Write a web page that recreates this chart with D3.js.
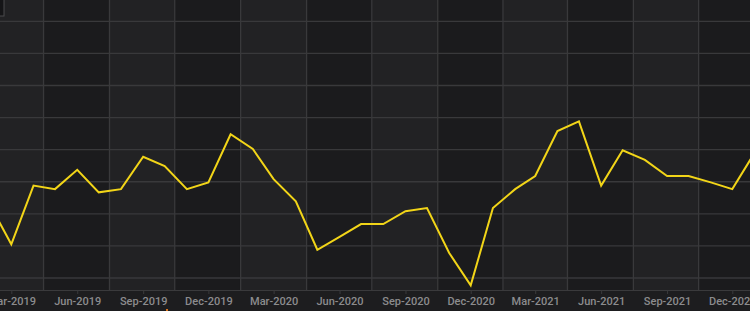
<!DOCTYPE html>
<html>
<head>
<meta charset="utf-8">
<script src="https://cdn.jsdelivr.net/npm/d3@7"></script>
<style>
  html, body { margin: 0; padding: 0; background: #1d1d1f; overflow: hidden; }
  #chart { width: 750px; height: 311px; }
  .axis text { font-family: Roboto, sans-serif; font-size: 11px; font-weight: 500; fill: #8c8c8e; }
  .axis line, .axis path { stroke: #3a3a3c; }
</style>
</head>
<body>
<div id="chart"></div>
<script>
// monthly observations, Feb-2019 .. Jan-2022
const months = [
  '2019-02', '2019-03', '2019-04', '2019-05', '2019-06', '2019-07', '2019-08', '2019-09',
  '2019-10', '2019-11', '2019-12', '2020-01', '2020-02', '2020-03', '2020-04', '2020-05',
  '2020-06', '2020-07', '2020-08', '2020-09', '2020-10', '2020-11', '2020-12', '2021-01',
  '2021-02', '2021-03', '2021-04', '2021-05', '2021-06', '2021-07', '2021-08', '2021-09',
  '2021-10', '2021-11', '2021-12', '2022-01'
];
const values = [
  46.21, 45.05, 46.88, 46.77, 47.37, 46.67, 46.77, 47.78,
  47.49, 46.77, 46.98, 48.48, 48.02, 47.08, 46.39, 44.88,
  45.28, 45.68, 45.68, 46.08, 46.18, 44.78, 43.77, 46.18,
  46.77, 47.18, 48.58, 48.88, 46.88, 47.98, 47.68, 47.18,
  47.18, 46.98, 46.77, 47.90
];
const tickLabels = ['2019-03', '2019-06', '2019-09', '2019-12', '2020-03', '2020-06',
  '2020-09', '2020-12', '2021-03', '2021-06', '2021-09', '2021-12'];
// vertical grid lines sit half way between the labelled quarters
const gridDates = ['2019-01-15', '2019-04-15', '2019-07-16', '2019-10-15', '2020-01-15',
  '2020-04-16', '2020-07-16', '2020-10-16', '2021-01-15', '2021-04-15', '2021-07-16',
  '2021-10-15', '2022-01-15'];
const yTicks = [44, 45, 46, 47, 48, 49, 50, 51, 52];

const width = 750;
const height = 311;
const plotBottom = 290;

const parseMonth = d3.timeParse('%Y-%m');
const parseDay = d3.timeParse('%Y-%m-%d');
const data = months.map((m, i) => ({ date: parseMonth(m), value: values[i] }));

const svg = d3.select('#chart')
  .append('svg')
  .attr('width', width)
  .attr('height', height);

const xScale = d3.scaleTime()
  .domain([parseMonth('2019-03'), parseMonth('2021-12')])
  .range([11.3, 732.3]);

const yScale = d3.scaleLinear()
  .domain([44, 52])
  .range([278, 21.3]);

svg.append('defs')
  .append('clipPath')
  .attr('id', 'plotClip')
  .append('rect')
  .attr('x', 0)
  .attr('y', 0)
  .attr('width', width)
  .attr('height', plotBottom);

const plot = svg.append('g').attr('clip-path', 'url(#plotClip)');

// alternating quarter bands
const grid = gridDates.map(parseDay);
const bands = d3.pairs(grid);
plot.selectAll('rect.band')
  .data(bands)
  .enter()
  .append('rect')
  .attr('class', 'band')
  .attr('x', d => xScale(d[0]))
  .attr('y', 0)
  .attr('width', d => xScale(d[1]) - xScale(d[0]))
  .attr('height', plotBottom)
  .attr('fill', (d, i) => (i % 2 === 0 ? '#222224' : '#1b1b1d'));

plot.selectAll('line.hgrid')
  .data(yTicks)
  .enter()
  .append('line')
  .attr('class', 'hgrid')
  .attr('x1', 0)
  .attr('x2', width)
  .attr('y1', d => yScale(d))
  .attr('y2', d => yScale(d))
  .attr('stroke', '#39393b')
  .attr('stroke-width', 1.3);

plot.selectAll('line.vgrid')
  .data(grid)
  .enter()
  .append('line')
  .attr('class', 'vgrid')
  .attr('x1', d => xScale(d))
  .attr('x2', d => xScale(d))
  .attr('y1', 0)
  .attr('y2', plotBottom)
  .attr('stroke', '#39393b')
  .attr('stroke-width', 1.3);

plot.append('path')
  .datum(data)
  .attr('fill', 'none')
  .attr('stroke', '#f2d518')
  .attr('stroke-width', 2)
  .attr('stroke-linejoin', 'miter')
  .attr('d', d3.line()
    .x(d => xScale(d.date))
    .y(d => yScale(d.value)));

const xAxis = d3.axisBottom(xScale)
  .tickValues(tickLabels.map(parseMonth))
  .tickFormat(d3.timeFormat('%b-%Y'))
  .tickSize(4)
  .tickSizeOuter(0)
  .tickPadding(3);

svg.append('g')
  .attr('class', 'axis')
  .attr('transform', 'translate(0,' + plotBottom + ')')
  .call(xAxis)
  .call(g => g.select('.domain').attr('d', 'M0,0.5H' + width));

// cut-off legend box in the top left corner
svg.append('rect')
  .attr('x', -2)
  .attr('y', -2)
  .attr('width', 6)
  .attr('height', 18)
  .attr('fill', '#151517')
  .attr('stroke', '#4a4a4c')
  .attr('stroke-width', 1);

// small orange marker peeking at the bottom edge
svg.append('rect')
  .attr('x', 166)
  .attr('y', 309)
  .attr('width', 2)
  .attr('height', 2)
  .attr('fill', '#d8731c');
</script>
</body>
</html>
